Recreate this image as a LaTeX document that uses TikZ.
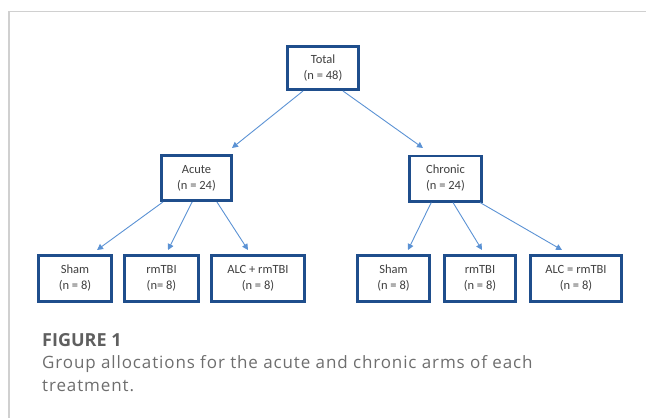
\documentclass[tikz,border=0pt]{standalone}
\usepackage{fontspec}
\setmainfont{Carlito}
\newfontfamily\capfont[LetterSpace=5.2]{Open Sans}
\newfontfamily\figfont{Open Sans}
\usetikzlibrary{arrows.meta,calc}
\definecolor{boxblue}{RGB}{31,78,140}
\definecolor{linkblue}{RGB}{91,146,212}
\definecolor{txtgray}{RGB}{64,64,64}
\definecolor{capgray}{RGB}{110,110,110}
\definecolor{figgray}{RGB}{95,95,95}
\definecolor{framegray}{RGB}{208,208,208}
\begin{document}
\begin{tikzpicture}[x=1pt,y=-1pt,
  box/.style={draw=boxblue, line width=2.8pt, fill=white, text=txtgray,
    inner sep=0pt, align=center, font=\fontsize{12.5}{16}\selectfont},
  link/.style={draw=linkblue, line width=0.9pt, -{Triangle[length=6pt,width=6pt]}},
  captxt/.style={anchor=base west, inner sep=0pt, text=capgray, font=\capfont\fontsize{17}{20}\selectfont}
]
\useasboundingbox (0,0) rectangle (646,418);
% frame
\draw[framegray, line width=1.5pt] (9,418) -- (9,11.5) -- (646,11.5);

% boxes (path sizes = outer size - line width)
\node[box, minimum width=71.2pt, minimum height=43.2pt] (total) at (323,68) {Total\\(n = 48)};
\node[box, minimum width=70.2pt, minimum height=45.2pt] (acute) at (196.5,178) {Acute\\(n = 24)};
\node[box, minimum width=72.2pt, minimum height=45.2pt] (chronic) at (445.5,178.5) {Chronic\\(n = 24)};

\node[box, minimum width=73.2pt, minimum height=46.2pt] (sham1) at (75,278.5) {Sham\\(n = 8)};
\node[box, minimum width=74.2pt, minimum height=46.2pt] (rm1) at (161.5,278.5) {rmTBI\\(n= 8)};
\node[box, minimum width=93.2pt, minimum height=46.2pt] (alc1) at (258,278.5) {ALC + rmTBI\\(n = 8)};
\node[box, minimum width=72.2pt, minimum height=46.2pt] (sham2) at (393.5,278.5) {Sham\\(n = 8)};
\node[box, minimum width=71.2pt, minimum height=46.2pt] (rm2) at (480,278.5) {rmTBI\\(n = 8)};
\node[box, minimum width=91.2pt, minimum height=46.2pt] (alc2) at (576,278.5) {ALC = rmTBI\\(n = 8)};

% arrow end coordinates
\coordinate (tA) at (232,148);
\coordinate (tC) at (423,148);
\coordinate (t1) at (97,250);
\coordinate (t2) at (168,250);
\coordinate (t3) at (248,250);
\coordinate (t4) at (408,250);
\coordinate (t5) at (482,250);
\coordinate (t6) at (562,250);

\draw[link] ($(total.south west)!0.23!(total.south east)$) -- (tA);
\draw[link] ($(total.south west)!0.77!(total.south east)$) -- (tC);

\draw[link] ($(acute.south west)!0.04!(acute.south east)$) -- (t1);
\draw[link] ($(acute.south west)!0.44!(acute.south east)$) -- (t2);
\draw[link] ($(acute.south west)!0.78!(acute.south east)$) -- (t3);

\draw[link] ($(chronic.south west)!0.31!(chronic.south east)$) -- (t4);
\draw[link] ($(chronic.south west)!0.60!(chronic.south east)$) -- (t5);
\draw[link] ($(chronic.south west)!0.96!(chronic.south east)$) -- (t6);

% caption
\node[captxt, text=figgray, font=\figfont\bfseries\fontsize{18}{20}\selectfont] (fig) at (42,346) {FIGURE 1};
\node[captxt] (cap1) at (42,368.5) {Group allocations for the acute and chronic arms of each};
\node[captxt] (cap2) at (42,391) {treatment.};
\end{tikzpicture}
\end{document}
